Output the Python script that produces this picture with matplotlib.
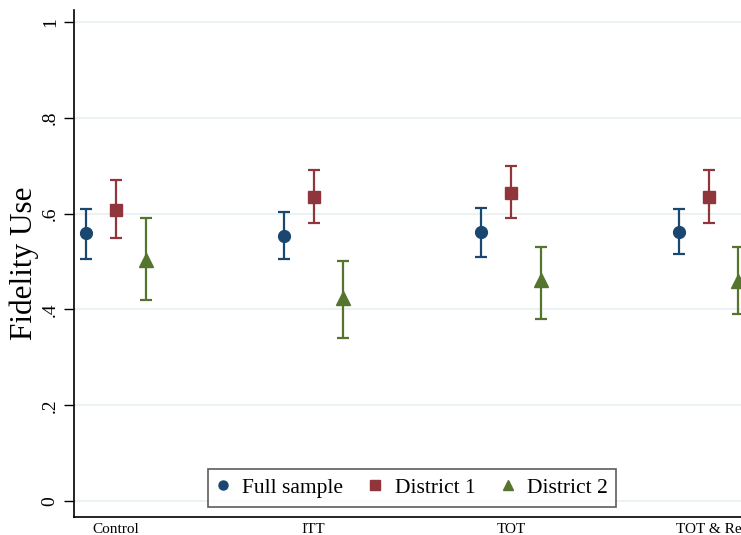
import numpy as np
import matplotlib
matplotlib.use("Agg")
import matplotlib.pyplot as plt

plt.rcParams['font.family'] = ['Liberation Serif', 'DejaVu Serif']

categories = ["Control", "ITT", "TOT", "TOT & Re"]
series_names = ["Full sample", "District 1", "District 2"]

full_mean = [0.560, 0.553, 0.562, 0.562]
full_lo = [0.505, 0.505, 0.510, 0.516]
full_hi = [0.610, 0.603, 0.612, 0.610]

d1_mean = [0.608, 0.635, 0.643, 0.635]
d1_lo = [0.550, 0.580, 0.590, 0.580]
d1_hi = [0.670, 0.690, 0.700, 0.690]

d2_mean = [0.503, 0.424, 0.462, 0.460]
d2_lo = [0.420, 0.340, 0.380, 0.390]
d2_hi = [0.590, 0.500, 0.530, 0.530]

colors = ["#1a476f", "#90353b", "#55752f"]
markers = ["o", "s", "^"]
offsets = [-0.15, 0.0, 0.15]

fig = plt.figure(figsize=(7.41, 5.35), dpi=100)
# axes run past the right edge: the reference is cropped there
ax = fig.add_axes([74 / 741, 18 / 535, (820 - 74) / 741, 507 / 535])

x = np.arange(len(categories))
handles = []
for name, mean, lo, hi, c, m, off in zip(
        series_names, [full_mean, d1_mean, d2_mean], [full_lo, d1_lo, d2_lo],
        [full_hi, d1_hi, d2_hi], colors, markers, offsets):
    mean, lo, hi = np.array(mean), np.array(lo), np.array(hi)
    ax.errorbar(x + off, mean, yerr=[mean - lo, hi - mean], fmt="none",
                ecolor=c, elinewidth=1.6, capsize=4.5, capthick=1.6, zorder=3)
    ax.plot(x + off, mean, linestyle="none", marker=m, color=c,
            markersize=8.5 if m != "^" else 9.5, zorder=4)
    h, = ax.plot([], [], linestyle="none", marker=m, color=c, markersize=6.5,
                 label=name)
    handles.append(h)

ax.set_xlim(-0.2127, -0.2127 + 746 / 197.5)
ax.set_ylim(-0.0334, 1.025)

yt = [0, 0.2, 0.4, 0.6, 0.8, 1.0]
ax.set_yticks(yt)
ax.set_yticklabels(["0", ".2", ".4", ".6", ".8", "1"], rotation=90,
                   va="center", fontsize=14)
ax.tick_params(axis="y", length=7, width=1, pad=4)
ax.set_xticks(x)
ax.set_xticklabels(categories, fontsize=11)
ax.tick_params(axis="x", length=0, pad=4)

ax.grid(axis="y", color="#eaf2f3", linewidth=1.5, zorder=0)
ax.set_axisbelow(True)
for s in ["top", "right"]:
    ax.spines[s].set_visible(False)
for s in ["left", "bottom"]:
    ax.spines[s].set_linewidth(1.2)
    ax.spines[s].set_color("black")

ax.set_ylabel("Fidelity Use", fontsize=22.5, labelpad=2)

leg = fig.legend(handles=handles, loc="center", ncol=3, fontsize=15.5,
                 bbox_to_anchor=(412 / 741, 1 - 488 / 535), frameon=True,
                 fancybox=False, edgecolor="#333333", handlelength=0.6,
                 handletextpad=0.6, columnspacing=1.2, borderpad=0.4)
leg.get_frame().set_linewidth(1.2)

fig.savefig("out.png", dpi=100)
